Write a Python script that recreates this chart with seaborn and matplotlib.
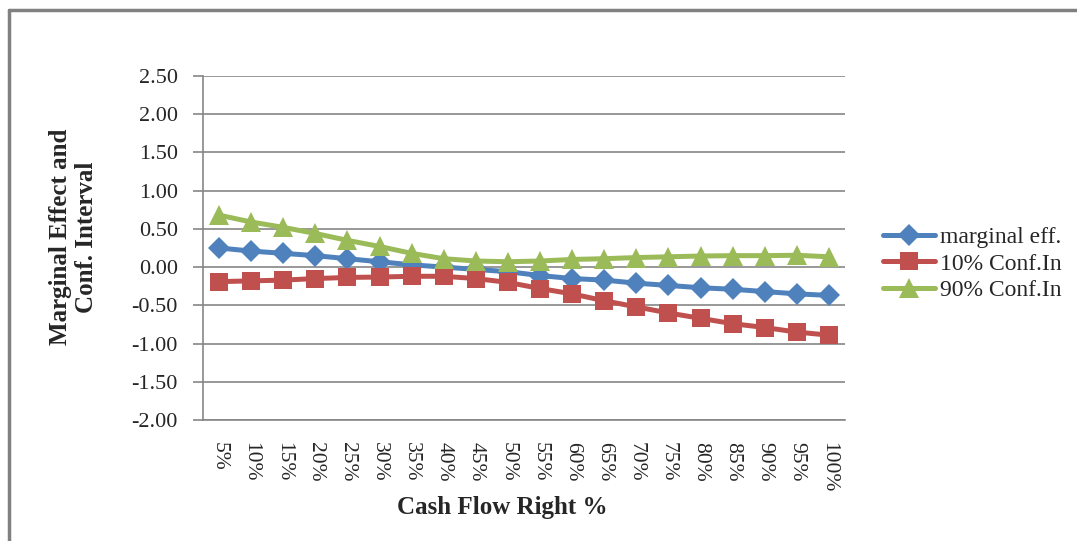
import matplotlib
matplotlib.use("Agg")
import matplotlib.pyplot as plt
import seaborn as sns
import pandas as pd
import numpy as np
from matplotlib.lines import Line2D

# Values
categories = ["5%", "10%", "15%", "20%", "25%", "30%", "35%", "40%", "45%", "50%",
              "55%", "60%", "65%", "70%", "75%", "80%", "85%", "90%", "95%", "100%"]
marginal_eff = [0.25, 0.21, 0.18, 0.15, 0.11, 0.07, 0.03, 0.00, -0.03, -0.06,
                -0.11, -0.15, -0.17, -0.21, -0.24, -0.27, -0.29, -0.32, -0.35, -0.37]
conf_10 = [-0.19, -0.18, -0.17, -0.15, -0.135, -0.13, -0.12, -0.12, -0.15, -0.20,
           -0.28, -0.35, -0.44, -0.52, -0.60, -0.67, -0.74, -0.79, -0.85, -0.89]
conf_90 = [0.68, 0.59, 0.52, 0.44, 0.35, 0.27, 0.18, 0.11, 0.08, 0.07,
           0.08, 0.10, 0.11, 0.125, 0.135, 0.145, 0.15, 0.15, 0.155, 0.135]
series_names = ["marginal eff.", "10% Conf.In", "90% Conf.In"]
y_ticks = [-2.0, -1.5, -1.0, -0.5, 0.0, 0.5, 1.0, 1.5, 2.0, 2.5]

df = pd.DataFrame({
    "pos": list(range(len(categories))) * 3,
    "value": marginal_eff + conf_10 + conf_90,
    "series": [n for n in series_names for _ in categories],
})

colors = {"marginal eff.": "#4F81BD", "10% Conf.In": "#C0504D", "90% Conf.In": "#9BBB59"}
markers = {"marginal eff.": "D", "10% Conf.In": "s", "90% Conf.In": "^"}
msizes = {"marginal eff.": 11, "10% Conf.In": 13, "90% Conf.In": 14}

sns.set_style("white")
plt.rcParams["font.family"] = ["Liberation Serif", "DejaVu Serif"]

fig = plt.figure(figsize=(10.77, 5.41), dpi=100)
ax = fig.add_axes([203 / 1077, 1 - 420 / 541, (845 - 203) / 1077, (420 - 76) / 541])

for name in series_names:
    sns.lineplot(data=df[df["series"] == name], x="pos", y="value", ax=ax,
                 color=colors[name], marker=markers[name], markersize=msizes[name],
                 markeredgewidth=0, linewidth=3.6, sort=False, label=name)

ax.set_xlim(-0.5, len(categories) - 0.5)
ax.set_ylim(-2.0, 2.5)
ax.set_yticks(y_ticks)
ax.set_yticklabels([f"{v:.2f}" for v in y_ticks], fontsize=16)
ax.yaxis.grid(True, color="#868686", linewidth=1.2)
ax.xaxis.grid(False)
ax.set_axisbelow(True)

ax.set_xticks(range(len(categories)))
ax.set_xticklabels(categories, rotation=-90, fontsize=15.5)
ax.set_xticks(np.arange(-0.5, len(categories)), minor=True)
ax.tick_params(axis="x", which="major", length=0, pad=16)
ax.tick_params(axis="x", which="minor", length=5, width=1.2, color="#868686", direction="out")
ax.tick_params(axis="y", length=7, width=1.2, color="#868686", direction="out", pad=11, left=True)

for side in ["top", "right"]:
    ax.spines[side].set_visible(False)
for side in ["left", "bottom"]:
    ax.spines[side].set_color("#868686")
    ax.spines[side].set_linewidth(1.2)

ax.set_xlabel("Cash Flow Right %", fontsize=18, fontweight="bold")
ax.xaxis.set_label_coords(0.466, -0.222)
ax.set_ylabel("Marginal Effect and\nConf. Interval", fontsize=18, fontweight="bold",
              linespacing=1.2)
ax.yaxis.set_label_coords(-0.163, 0.532)

ax.legend(loc="center left", bbox_to_anchor=(874 / 1077, 1 - 264 / 541),
          bbox_transform=fig.transFigure, frameon=False, borderaxespad=0,
          fontsize=17, handlelength=2.2, handletextpad=0.2, labelspacing=0.22)

# outer chart frame (left and top edges visible)
fig.add_artist(Line2D([9 / 1077, 9 / 1077], [0, 1 - 9.5 / 541], transform=fig.transFigure,
                      color="#808080", linewidth=2.5))
fig.add_artist(Line2D([9 / 1077, 1], [1 - 9.5 / 541, 1 - 9.5 / 541], transform=fig.transFigure,
                      color="#808080", linewidth=2.5))

fig.savefig("out.png", dpi=100, facecolor="white")
